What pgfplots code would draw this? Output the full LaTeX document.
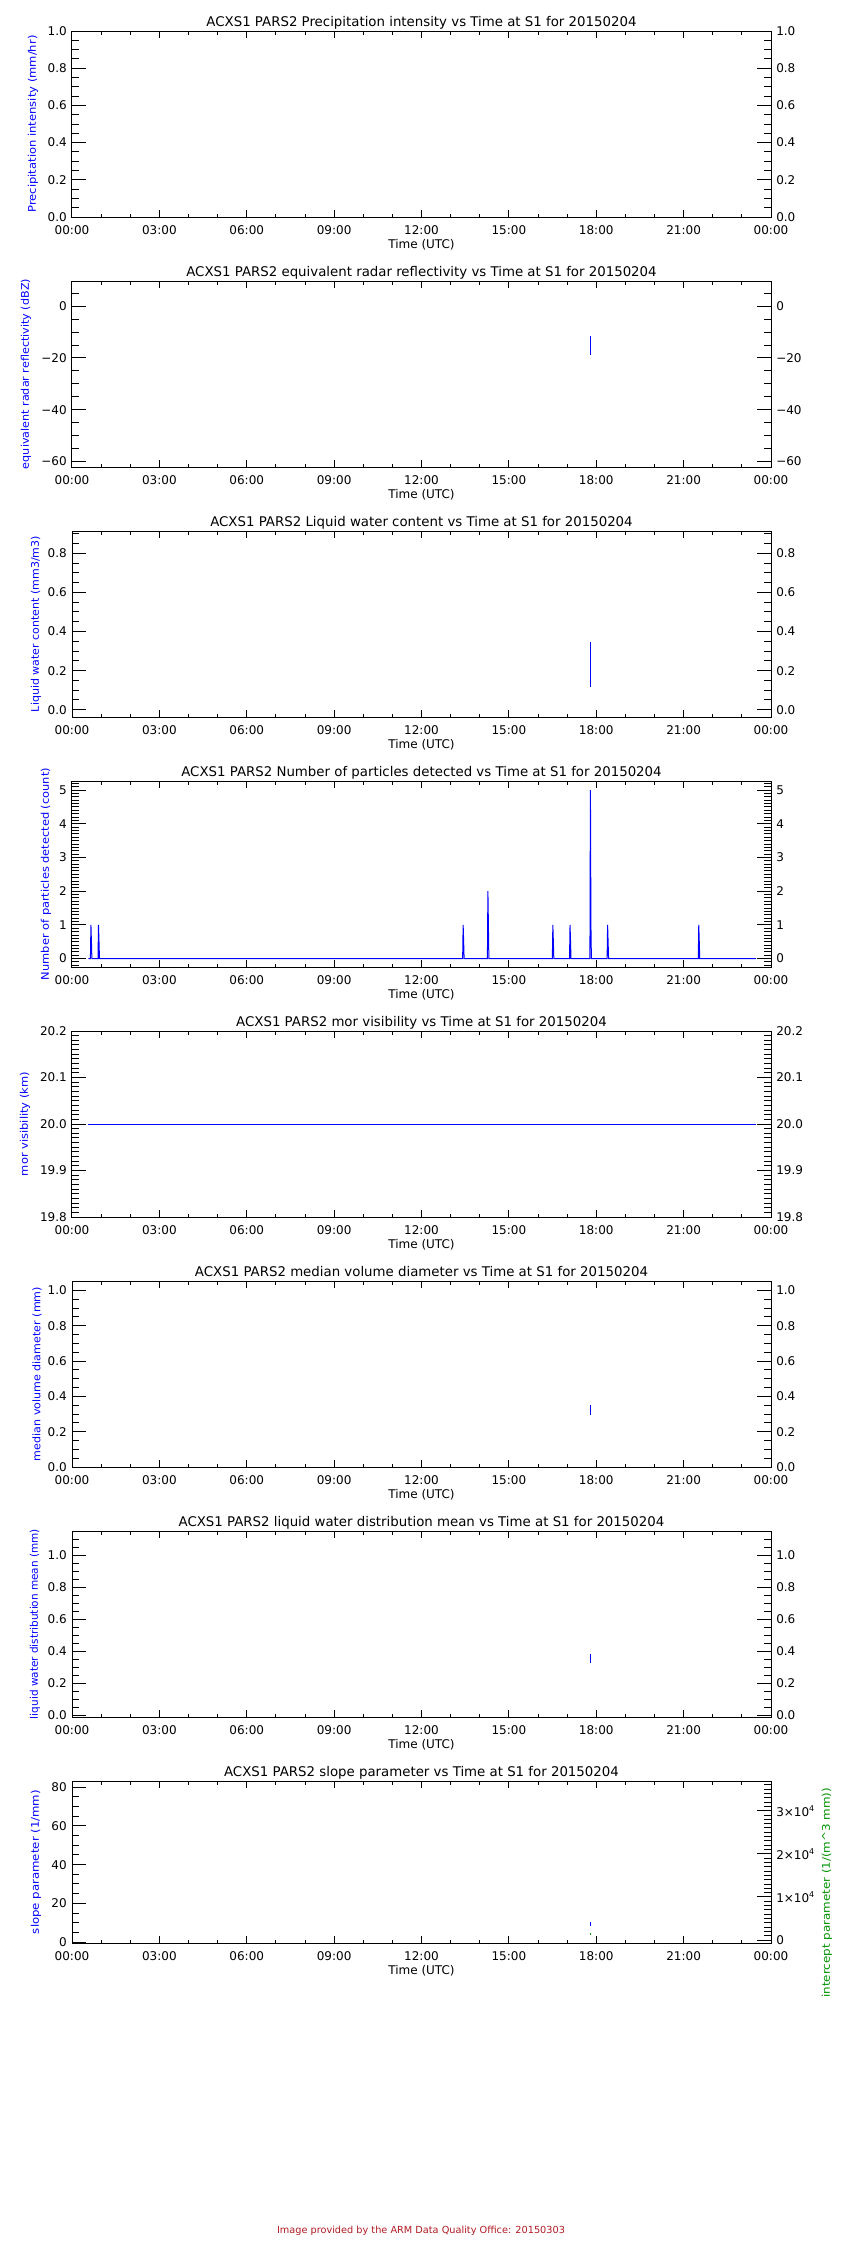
\documentclass[border=0pt]{standalone}
\usepackage{fontspec}
\setmainfont{DejaVu Sans}
\usepackage{graphicx}
\usepackage{pgfplots}
\pgfplotsset{compat=1.18}
\definecolor{idlblue}{RGB}{0,0,255}
\definecolor{idlgreen}{RGB}{0,145,0}
\definecolor{footred}{RGB}{176,28,36}
\newlength\px
\setlength\px{0.75pt}

\pgfplotsset{
  arm/.style={
    scale only axis, width=699\px, height=186\px, anchor=north west,
    xmin=0, xmax=24,
    xtick={0,3,...,24}, minor xtick={0,1,...,24},
    xticklabels={00:00,03:00,06:00,09:00,12:00,15:00,18:00,21:00,00:00},
    tick align=inside, xtick pos=both, ytick pos=both, yticklabel pos=left,
    axis line style={black, line width=1\px},
    every tick/.style={black, line width=1\px},
    xtick style={/pgfplots/major tick length=7\px, /pgfplots/minor tick length=3.5\px},
    ytick style={/pgfplots/major tick length=14\px, /pgfplots/minor tick length=7\px},
    tick label style={font=\fontsize{9}{11}\selectfont},
    xticklabel style={anchor=base, inner sep=0pt, yshift=-17\px},
    yticklabel style={anchor=east, inner sep=0pt, xshift=-5\px},
    title style={font=\fontsize{11.4}{13}\selectfont},
    every axis title/.style={at={(axis description cs:0.5,1)}, anchor=base, yshift=4.5\px},
    xlabel={Time (UTC)},
    every axis x label/.style={at={(axis description cs:0.5,0)}, anchor=base, yshift=-31\px, font=\fontsize{9}{11}\selectfont},
    every axis y label/.style={at={(axis description cs:-0.055,0.5)}, rotate=90, anchor=center, text=idlblue},
    scaled ticks=false, clip=false,
  },
  armR/.style={
    scale only axis, width=699\px, height=186\px, anchor=north west,
    xmin=0, xmax=24, hide x axis, axis y line*=right,
    axis line style={draw=none}, minor ytick={},
    ytick style={draw=none}, major tick length=0pt,
    tick label style={font=\fontsize{9}{11}\selectfont},
    yticklabel style={anchor=west, inner sep=0pt, xshift=5\px},
    scaled ticks=false,
  },
  data/.style={idlblue, line width=1\px, no marks},
  pA/.style={ymin=0, ymax=1, ytick={0,0.2,0.4,0.6,0.8,1},
    yticklabels={0.0,0.2,0.4,0.6,0.8,1.0}},
  pB/.style={ymin=-62.2, ymax=9.8, ytick={-60,-40,-20,0},
    yticklabels={−60,−40,−20,0}},
  pC/.style={ymin=-0.037, ymax=0.914, ytick={0,0.2,0.4,0.6,0.8},
    yticklabels={0.0,0.2,0.4,0.6,0.8}},
  pD/.style={ymin=-0.25, ymax=5.27, ytick={0,1,2,3,4,5},
    yticklabels={0,1,2,3,4,5}},
  pE/.style={ymin=19.8, ymax=20.2, ytick={19.8,19.9,20,20.1,20.2},
    yticklabels={19.8,19.9,20.0,20.1,20.2}},
  pF/.style={ymin=0, ymax=1.053, ytick={0,0.2,0.4,0.6,0.8,1},
    yticklabels={0.0,0.2,0.4,0.6,0.8,1.0}},
  pG/.style={ymin=-0.01, ymax=1.153, ytick={0,0.2,0.4,0.6,0.8,1},
    yticklabels={0.0,0.2,0.4,0.6,0.8,1.0}},
  pH/.style={height=162\px, ymin=-0.5, ymax=83.2, ytick={0,20,40,60,80},
    yticklabels={0,20,40,60,80}},
}
\newcommand{\ylab}[2]{\resizebox{#1\px}{8\px}{#2}}

\begin{document}
\begin{tikzpicture}
\path[use as bounding box] (0,0) rectangle (840\px,-2250\px);

% precipitation intensity
\begin{axis}[arm, pA, at={(72\px,-31\px)}, minor ytick={0,0.05,...,1},
  title={ACXS1 PARS2 Precipitation intensity vs Time at S1 for 20150204},
  ylabel={\ylab{177}{Precipitation intensity (mm/hr)}},
  ylabel style={at={(axis description cs:-0.0558,0.5)}}]
\end{axis}
\begin{axis}[armR, pA, at={(72\px,-31\px)}]
\end{axis}

% reflectivity
\begin{axis}[arm, pB, at={(72\px,-281\px)}, minor ytick={-60,-55,...,5},
  title={ACXS1 PARS2 equivalent radar reflectivity vs Time at S1 for 20150204},
  ylabel={\ylab{190}{equivalent radar reflectivity (dBZ)}},
  ylabel style={at={(axis description cs:-0.0658,0.5)}}]
\addplot[data] coordinates {(17.8,-11.5) (17.8,-18.8)};
\end{axis}
\begin{axis}[armR, pB, at={(72\px,-281\px)}]
\end{axis}

% liquid water content
\begin{axis}[arm, pC, at={(72\px,-531\px)}, minor ytick={0,0.05,...,0.9},
  title={ACXS1 PARS2 Liquid water content vs Time at S1 for 20150204},
  ylabel={\ylab{176}{Liquid water content (mm3/m3)}},
  ylabel style={at={(axis description cs:-0.0515,0.5)}}]
\addplot[data] coordinates {(17.8,0.346) (17.8,0.115)};
\end{axis}
\begin{axis}[armR, pC, at={(72\px,-531\px)}]
\end{axis}

% number of particles
\begin{axis}[arm, pD, at={(72\px,-781\px)}, minor ytick={-0.2,-0.1,...,5.2},
  title={ACXS1 PARS2 Number of particles detected vs Time at S1 for 20150204},
  ylabel={\ylab{212}{Number of particles detected (count)}},
  ylabel style={at={(axis description cs:-0.0372,0.5)}}]
\addplot[data] coordinates {
  (0.56,0) (0.633,0) (0.65,1) (0.667,0.5) (0.683,0)
  (0.893,0) (0.91,1) (0.927,0.5) (0.943,0)
  (13.413,0) (13.43,1) (13.447,0.5) (13.463,0)
  (14.263,0) (14.28,2) (14.297,1) (14.313,0)
  (16.493,0) (16.51,1) (16.527,0.5) (16.543,0)
  (17.083,0) (17.1,1) (17.117,0.5) (17.133,0)
  (17.783,0) (17.8,5) (17.817,1) (17.833,0)
  (18.373,0) (18.39,1) (18.407,0.5) (18.423,0)
  (21.503,0) (21.52,1) (21.537,0.5) (21.553,0)
  (23.49,0)};
\end{axis}
\begin{axis}[armR, pD, at={(72\px,-781\px)}]
\end{axis}

% visibility
\begin{axis}[arm, pE, at={(72\px,-1031\px)}, minor ytick={19.8,19.81,...,20.2},
  title={ACXS1 PARS2 mor visibility vs Time at S1 for 20150204},
  ylabel={\ylab{104}{mor visibility (km)}},
  ylabel style={at={(axis description cs:-0.0672,0.5)}}]
\addplot[data] coordinates {(0.56,20) (23.49,20)};
\end{axis}
\begin{axis}[armR, pE, at={(72\px,-1031\px)}]
\end{axis}

% median volume diameter
\begin{axis}[arm, pF, at={(72\px,-1281\px)}, minor ytick={0,0.05,...,1.05},
  title={ACXS1 PARS2 median volume diameter vs Time at S1 for 20150204},
  ylabel={\ylab{174}{median volume diameter (mm)}},
  ylabel style={at={(axis description cs:-0.0501,0.5)}}]
\addplot[data] coordinates {(17.8,0.353) (17.8,0.296)};
\end{axis}
\begin{axis}[armR, pF, at={(72\px,-1281\px)}]
\end{axis}

% liquid water distribution mean
\begin{axis}[arm, pG, at={(72\px,-1531\px)}, minor ytick={0,0.05,...,1.15},
  title={ACXS1 PARS2 liquid water distribution mean vs Time at S1 for 20150204},
  ylabel={\ylab{190}{liquid water distribution mean (mm)}},
  ylabel style={at={(axis description cs:-0.0529,0.5)}}]
\addplot[data] coordinates {(17.8,0.383) (17.8,0.328)};
\end{axis}
\begin{axis}[armR, pG, at={(72\px,-1531\px)}]
\end{axis}

% slope / intercept parameter
\begin{axis}[arm, pH, at={(72\px,-1781\px)}, minor ytick={0,5,...,80},
  ytick pos=left,
  title={ACXS1 PARS2 slope parameter vs Time at S1 for 20150204},
  ylabel={\ylab{144}{slope parameter (1/mm)}},
  ylabel style={at={(axis description cs:-0.0515,0.5)}}]
\addplot[data] coordinates {(17.8,10.5) (17.8,8.4)};
\end{axis}
\begin{axis}[scale only axis, width=699\px, height=162\px, anchor=north west,
  at={(72\px,-1781\px)}, xmin=0, xmax=24, hide x axis, axis y line*=right,
  ymin=-700, ymax=36900, ytick={0,10000,20000,30000},
  yticklabels={0,1×10\textsuperscript{4},2×10\textsuperscript{4},3×10\textsuperscript{4}},
  minor ytick={0,1000,...,36000}, scaled ticks=false,
  tick align=inside,
  axis line style={black, line width=1\px},
  every tick/.style={black, line width=1\px},
  major tick length=14\px, minor tick length=7\px,
  tick label style={font=\fontsize{9}{11}\selectfont},
  yticklabel style={anchor=west, inner sep=0pt, xshift=5\px},
  ylabel={\resizebox{210\px}{8\px}{intercept parameter (1/(m\textasciicircum 3 mm))}},
  every axis y label/.style={at={(axis description cs:1.080,0.31)}, rotate=90, anchor=center, text=idlgreen},
  clip=false]
\addplot[idlgreen, line width=1\px, no marks] coordinates {(17.8,1600) (17.8,1200)};
\end{axis}

\node[text=footred, font=\fontsize{7.3}{9}\selectfont] at (421\px,-2231\px)
  {Image provided by the ARM Data Quality Office: 20150303};
\end{tikzpicture}
\end{document}
